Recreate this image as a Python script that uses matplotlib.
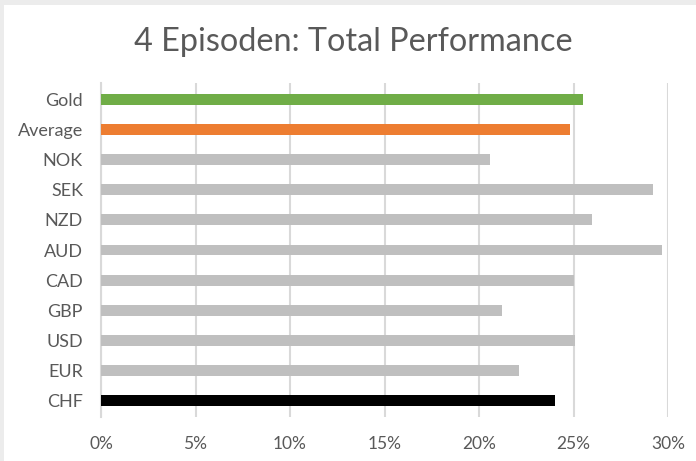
import matplotlib
matplotlib.use("Agg")
import matplotlib.pyplot as plt
from matplotlib.patches import Rectangle
from matplotlib.ticker import FuncFormatter, MultipleLocator

categories = ["Gold", "Average", "NOK", "SEK", "NZD", "AUD", "CAD", "GBP", "USD", "EUR", "CHF"]
values = [25.5, 24.8, 20.6, 29.2, 26.0, 29.7, 25.0, 21.2, 25.1, 22.1, 24.0]
colors = ["#70ad47", "#ed7d31", "#bfbfbf", "#bfbfbf", "#bfbfbf", "#bfbfbf",
          "#bfbfbf", "#bfbfbf", "#bfbfbf", "#bfbfbf", "#000000"]
title = "4 Episoden: Total Performance"

plt.rcParams['font.family'] = ['Lato', 'DejaVu Sans']

W, H = 696, 461
fig = plt.figure(figsize=(W / 100, H / 100), dpi=100)
fig.patch.set_facecolor("white")
# outer frame shading
fig.patches.append(Rectangle((0, 1 - 5 / H), 1, 5 / H, transform=fig.transFigure,
                             facecolor="#ececec", edgecolor="none", zorder=0))
fig.patches.append(Rectangle((0, 0), 4 / W, 1, transform=fig.transFigure,
                             facecolor="#ececec", edgecolor="none", zorder=0))

ax = fig.add_axes([101 / W, 1 - 417 / H, (668 - 101) / W, (417 - 83) / H])
n = len(categories)
ypos = list(range(n))[::-1]
ax.barh(ypos, values, height=0.36, color=colors, zorder=3)
ax.set_ylim(-0.55, n - 0.45)
ax.set_xlim(0, 30)
ax.xaxis.set_major_locator(MultipleLocator(5))
ax.xaxis.set_major_formatter(FuncFormatter(lambda v, p: f"{v:.0f}%"))
ax.set_yticks(ypos)
ax.set_yticklabels(categories)
ax.grid(axis="x", color="#d9d9d9", linewidth=1.5, zorder=0)
for s in ["top", "right", "bottom"]:
    ax.spines[s].set_visible(False)
ax.spines["left"].set_color("#d9d9d9")
ax.spines["left"].set_linewidth(1.5)
ax.tick_params(axis="both", length=0, colors="#595959")
ax.tick_params(axis="x", pad=14, labelsize=12.5)
ax.tick_params(axis="y", pad=13, labelsize=13)

fig.text(353 / W, 1 - 42 / H, title, ha="center", va="center",
         fontsize=23.3, color="#595959")

fig.savefig("out.png", dpi=100)
